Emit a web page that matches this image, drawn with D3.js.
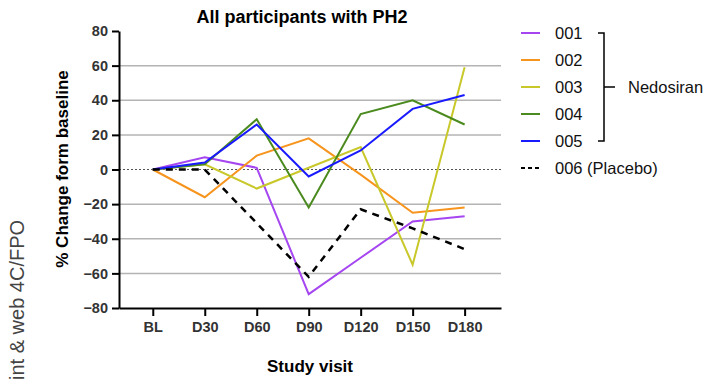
<!DOCTYPE html>
<html>
<head>
<meta charset="utf-8">
<script src="https://cdn.jsdelivr.net/npm/d3@7"></script>
<style>
  body { margin: 0; background: #fff; }
  text { font-family: "Liberation Sans", Arial, sans-serif; }
</style>
</head>
<body>
<div id="chart"></div>
<script>
const visits = ["BL", "D30", "D60", "D90", "D120", "D150", "D180"];
const yTicks = [-80, -60, -40, -20, 0, 20, 40, 60, 80];
const gridTicks = [-60, -40, -20, 20, 40, 60];

const p001 = [0, 7, 1, -72, -51, -30, -27];
const p002 = [0, -16, 8, 18, -3, -25, -22];
const p003 = [0, 3, -11, 1, 13, -55, 59];
const p004 = [0, 3, 29, -22, 32, 40, 26];
const p005 = [0, 4, 26, -4, 11, 35, 43];
const p006 = [0, 0, -31, -62, -23, -34, -46];

const seriesNames = ["001", "002", "003", "004", "005", "006 (Placebo)"];
const seriesColors = ["#a546f0", "#f7941d", "#c8c82a", "#4a8a1e", "#1a1aff", "#000"];
const seriesValues = [p001, p002, p003, p004, p005, p006];

const W = 707, H = 380;
const margin = { top: 31, left: 119 };
const width = 382, height = 277;

const svg = d3.select("#chart").append("svg")
  .attr("width", W)
  .attr("height", H);

const g = svg.append("g")
  .attr("transform", "translate(" + margin.left + "," + margin.top + ")");

const x = d3.scaleLinear()
  .domain([-0.65, 6.7])
  .range([0, width]);

const y = d3.scaleLinear()
  .domain([-80, 80])
  .range([height, 0]);

// grid
g.selectAll(".grid")
  .data(gridTicks)
  .enter().append("line")
  .attr("x1", 0).attr("x2", width)
  .attr("y1", d => y(d)).attr("y2", d => y(d))
  .attr("stroke", "#b4b4b4")
  .attr("stroke-width", 1.5);

g.append("line")
  .attr("x1", 0).attr("x2", width)
  .attr("y1", y(0)).attr("y2", y(0))
  .attr("stroke", "#555")
  .attr("stroke-width", 1)
  .attr("stroke-dasharray", "2,2");

// lines
const line = d3.line()
  .x((d, i) => x(i))
  .y(d => y(d));

seriesValues.forEach(function (vals, k) {
  g.append("path")
    .datum(vals)
    .attr("fill", "none")
    .attr("stroke", seriesColors[k])
    .attr("stroke-width", k === 5 ? 2.5 : 2)
    .attr("stroke-dasharray", k === 5 ? "7,6" : null)
    .attr("d", line);
});

// y axis
const yAxis = g.append("g")
  .call(d3.axisLeft(y).tickValues(yTicks).tickSize(7).tickSizeOuter(0)
    .tickFormat(d => d < 0 ? "\u2212" + Math.abs(d) : d));
yAxis.select(".domain").attr("stroke", "#000").attr("stroke-width", 2);
yAxis.selectAll(".tick line").attr("stroke", "#000").attr("stroke-width", 2);
yAxis.selectAll(".tick text")
  .attr("x", -11)
  .style("font-size", "14.5px")
  .style("font-weight", "bold")
  .attr("fill", "#333");

// x axis
const xAxis = g.append("g")
  .attr("transform", "translate(0," + height + ")")
  .call(d3.axisBottom(x).tickValues(d3.range(visits.length)).tickSize(8).tickSizeOuter(0)
    .tickFormat(i => visits[i]));
xAxis.select(".domain").attr("stroke", "#000").attr("stroke-width", 2);
xAxis.selectAll(".tick line").attr("stroke", "#000").attr("stroke-width", 2);
xAxis.selectAll(".tick text")
  .attr("y", 14)
  .style("font-size", "14.5px")
  .style("font-weight", "bold")
  .attr("fill", "#333");

// titles
svg.append("text")
  .attr("x", 302).attr("y", 23)
  .attr("text-anchor", "middle")
  .style("font-size", "18px")
  .style("font-weight", "bold")
  .text("All participants with PH2");

svg.append("text")
  .attr("transform", "translate(68,169) rotate(-90)")
  .attr("text-anchor", "middle")
  .style("font-size", "17px")
  .style("font-weight", "bold")
  .text("% Change form baseline");

svg.append("text")
  .attr("x", 310).attr("y", 372)
  .attr("text-anchor", "middle")
  .style("font-size", "17px")
  .style("font-weight", "bold")
  .text("Study visit");

svg.append("text")
  .attr("transform", "translate(24,380) rotate(-90)")
  .attr("text-anchor", "start")
  .style("font-size", "20px")
  .attr("fill", "#444")
  .text("int & web 4C/FPO");

// legend
const legend = svg.append("g");
const rowY = d3.scaleLinear().domain([0, 5]).range([33, 168]);

seriesNames.forEach(function (name, k) {
  legend.append("line")
    .attr("x1", 521).attr("x2", 540)
    .attr("y1", rowY(k)).attr("y2", rowY(k))
    .attr("stroke", seriesColors[k])
    .attr("stroke-width", 2)
    .attr("stroke-dasharray", k === 5 ? "4,3" : null);
  legend.append("text")
    .attr("x", 555).attr("y", rowY(k))
    .attr("dy", "0.36em")
    .style("font-size", "16.5px")
    .attr("fill", "#111")
    .text(name);
});

// bracket for Nedosiran
const bx = 604;
legend.append("path")
  .attr("d", "M" + (bx - 6) + "," + rowY(0) + "H" + bx + "V" + rowY(4) + "H" + (bx - 6) +
    "M" + bx + "," + rowY(2) + "H" + (bx + 11))
  .attr("fill", "none")
  .attr("stroke", "#000")
  .attr("stroke-width", 1.5);

legend.append("text")
  .attr("x", 628).attr("y", rowY(2))
  .attr("dy", "0.36em")
  .style("font-size", "16.5px")
  .attr("fill", "#111")
  .text("Nedosiran");
</script>
</body>
</html>
